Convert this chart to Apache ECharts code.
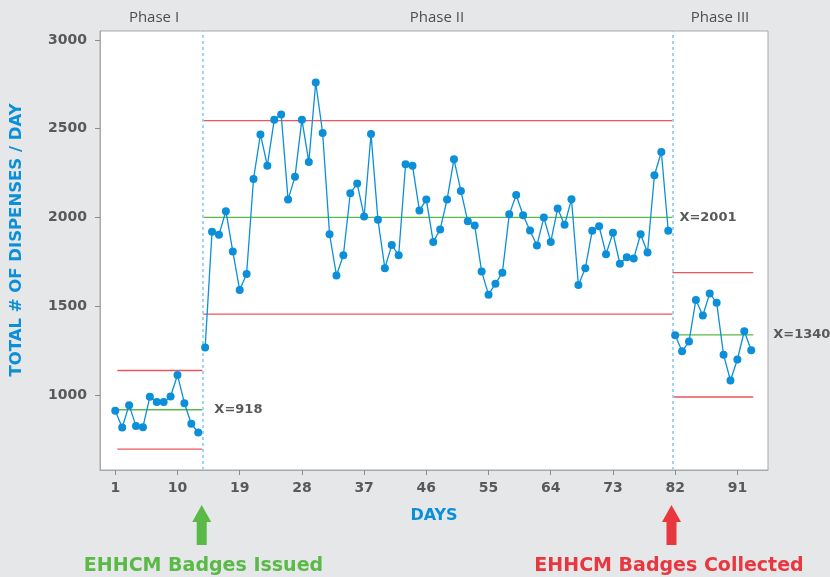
<!DOCTYPE html>
<html>
<head>
<meta charset="utf-8">
<script src="https://cdn.jsdelivr.net/npm/echarts@6/dist/echarts.min.js"></script>
<style>
html,body{margin:0;padding:0;background:#e6e7e8;}
#chart{width:830px;height:577px;}
</style>
</head>
<body>
<div id="chart"></div>
<script>
// ---- data ----
var phaseNames = ['Phase I', 'Phase II', 'Phase III'];
var phaseFirstDay = [1, 14, 82];
var phase1Values = [912, 818, 944, 826, 820, 991, 962, 962, 993, 1114, 955, 839, 790];
var phase2Values = [1268, 1920, 1903, 2036, 1809, 1592, 1682, 2217, 2468, 2292, 2551, 2580, 2101, 2230, 2551, 2313, 2760, 2476, 1906, 1674, 1788, 2137, 2191, 2006, 2470, 1987, 1715, 1845, 1788, 2300, 2292, 2039, 2101, 1863, 1933, 2101, 2328, 2150, 1979, 1955, 1697, 1566, 1628, 1689, 2018, 2127, 2013, 1927, 1843, 2000, 1863, 2051, 1959, 2103, 1620, 1715, 1925, 1951, 1794, 1914, 1740, 1777, 1770, 1906, 1803, 2238, 2369, 1926];
var phase3Values = [1337, 1247, 1302, 1536, 1449, 1573, 1521, 1228, 1083, 1201, 1360, 1253];
var phaseMeans = [918, 2001, 1340];
var phaseUCL = [1139, 2545, 1690];
var phaseLCL = [697, 1456, 990];
var limitStart = [1.3, 13.7, 81.6];
var limitEnd = [13.6, 81.6, 93.3];
var dividerDays = [13.7, 81.6];
var xTickLabels = [1, 10, 19, 28, 37, 46, 55, 64, 73, 82, 91];
var yTickLabels = [1000, 1500, 2000, 2500, 3000];
var meanLabelGap = [12, 7, 20];

var GRAY = '#58595b', BLUE = '#0a8fd8', GREEN = '#5ab947', RED = '#e8373f';
var FONT = 'DejaVu Sans';

var phaseValues = [phase1Values, phase2Values, phase3Values];
var series = [];
phaseValues.forEach(function (vals, p) {
  series.push({
    type: 'line', name: phaseNames[p],
    data: vals.map(function (v, i) { return [phaseFirstDay[p] + i, v]; }),
    symbol: 'circle', symbolSize: 8, showSymbol: true,
    itemStyle: { color: BLUE }, lineStyle: { color: BLUE, width: 1.3 },
    z: 5, silent: true, animation: false
  });
  [[phaseUCL[p], RED], [phaseLCL[p], RED]].forEach(function (l) {
    series.push({
      type: 'line', data: [[limitStart[p], l[0]], [limitEnd[p], l[0]]],
      symbol: 'none', lineStyle: { color: l[1], width: 1.3, opacity: 0.85 },
      z: 3, silent: true, animation: false
    });
  });
  series.push({
    type: 'line', data: [[limitStart[p], phaseMeans[p]], [limitEnd[p], phaseMeans[p]]],
    symbol: 'none', lineStyle: { color: GREEN, width: 1.3 },
    endLabel: { show: true, formatter: 'X=' + phaseMeans[p], distance: meanLabelGap[p],
      color: GRAY, fontFamily: FONT, fontWeight: 'bold', fontSize: 13 },
    z: 3, silent: true, animation: false
  });
});
// phase dividers
series.push({
  type: 'line', data: [], silent: true, animation: false,
  markLine: {
    symbol: 'none', silent: true, animation: false,
    label: { show: false },
    lineStyle: { color: '#9fd4f2', type: [3, 3], width: 2 },
    data: dividerDays.map(function (d) { return { xAxis: d }; })
  }
});

var chart = echarts.init(document.getElementById('chart'));
chart.setOption({
  backgroundColor: '#e6e7e8',
  animation: false,
  grid: { left: 100, top: 31, right: 62, bottom: 107, show: true,
    backgroundColor: '#ffffff', borderColor: '#a7a9ac', borderWidth: 1 },
  xAxis: {
    type: 'value', min: -1.21, max: 95.43,
    axisLine: { show: true, onZero: false, lineStyle: { color: '#a7a9ac', width: 1 } },
    splitLine: { show: false },
    axisTick: { show: true, inside: false, length: 5, customValues: xTickLabels, lineStyle: { color: '#8a8c8e' } },
    axisLabel: { customValues: xTickLabels, margin: 11, color: GRAY,
      fontFamily: FONT, fontWeight: 'bold', fontSize: 14,
      formatter: function (v) { return String(v); } },
    name: 'DAYS', nameLocation: 'middle', nameGap: 38,
    nameTextStyle: { color: BLUE, fontFamily: FONT, fontWeight: 'bold', fontSize: 16 }
  },
  yAxis: {
    type: 'value', min: 579, max: 3050,
    axisLine: { show: true, onZero: false, lineStyle: { color: '#a7a9ac', width: 1 } },
    splitLine: { show: false },
    axisTick: { show: true, inside: false, length: 5, customValues: yTickLabels, lineStyle: { color: '#8a8c8e' } },
    axisLabel: { customValues: yTickLabels, margin: 13, color: GRAY,
      fontFamily: FONT, fontWeight: 'bold', fontSize: 14,
      formatter: function (v) { return String(v); } }
  },
  graphic: [
    { type: 'text', x: 17, y: 240, rotation: Math.PI / 2,
      style: { text: 'TOTAL # OF DISPENSES / DAY', fill: BLUE, font: 'bold 16.5px "DejaVu Sans"',
        textAlign: 'center', textVerticalAlign: 'middle' } },
    { type: 'text', x: 154, y: 18, style: { text: phaseNames[0], fill: '#4d4e50', font: '15px "Open Sans"', textAlign: 'center', textVerticalAlign: 'middle' } },
    { type: 'text', x: 437, y: 18, style: { text: phaseNames[1], fill: '#4d4e50', font: '15px "Open Sans"', textAlign: 'center', textVerticalAlign: 'middle' } },
    { type: 'text', x: 720, y: 18, style: { text: phaseNames[2], fill: '#4d4e50', font: '15px "Open Sans"', textAlign: 'center', textVerticalAlign: 'middle' } },
    { type: 'polygon', shape: { points: [[201.7,505],[211.2,522],[206.7,522],[206.7,545],[196.7,545],[196.7,522],[192.2,522]] }, style: { fill: GREEN } },
    { type: 'polygon', shape: { points: [[671.5,505],[681,522],[676.5,522],[676.5,545],[666.5,545],[666.5,522],[662,522]] }, style: { fill: RED } },
    { type: 'text', x: 203.5, y: 566, style: { text: 'EHHCM Badges Issued', fill: GREEN, font: 'bold 19px "DejaVu Sans"', textAlign: 'center', textVerticalAlign: 'middle' } },
    { type: 'text', x: 669, y: 566, style: { text: 'EHHCM Badges Collected', fill: RED, font: 'bold 19px "DejaVu Sans"', textAlign: 'center', textVerticalAlign: 'middle' } }
  ],
  series: series
});
</script>
</body>
</html>
